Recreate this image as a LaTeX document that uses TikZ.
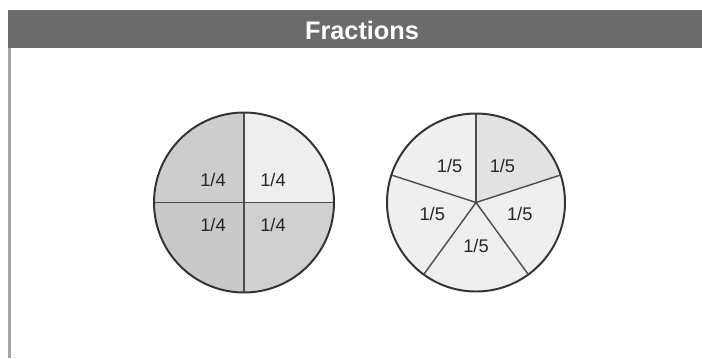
\documentclass[tikz,border=0pt]{standalone}
\usepackage{fontspec}
\setmainfont{Liberation Sans}
\usepackage{tikz}
\usetikzlibrary{positioning,calc}
\definecolor{barGray}{HTML}{6B6B6B}
\definecolor{quarterDark}{HTML}{CDCDCD}
\definecolor{quarterLight}{HTML}{EEEEEE}
\definecolor{fifthDark}{HTML}{E2E2E2}
\definecolor{fifthLight}{HTML}{EFEFEF}

\begin{document}
\begin{tikzpicture}[x=0.025cm, y=0.025cm,
  frac/.style={font=\fontsize{13}{15}\selectfont, text=black!85, inner sep=0pt},
  rim/.style={draw=black!80, line width=1.4pt},
  spoke/.style={draw=black!70, line width=1pt}]
\useasboundingbox (0,0) rectangle (702,358);
% header and frame
\fill[barGray] (8,310) rectangle (702,348);
\draw[gray!70, line width=1.5pt] (9.5,0) -- (9.5,310);
\node[font=\bfseries\fontsize{18}{20}\selectfont, text=white] (title) at (362,328) {Fractions};
% quarters
\coordinate (qc) at (244,155.5);
\fill[quarterDark] (qc) -- ++(90:90) arc[start angle=90, end angle=180, radius=90] -- cycle;
\fill[quarterLight] (qc) -- ++(0:90) arc[start angle=0, end angle=90, radius=90] -- cycle;
\fill[quarterDark!98!black] (qc) -- ++(180:90) arc[start angle=180, end angle=270, radius=90] -- cycle;
\fill[quarterDark!95!white] (qc) -- ++(270:90) arc[start angle=270, end angle=360, radius=90] -- cycle;
\draw[spoke] ($(qc)+(-90,0)$) -- ($(qc)+(90,0)$);
\draw[spoke] ($(qc)+(0,-90)$) -- ($(qc)+(0,90)$);
\draw[rim] (qc) circle[radius=90];
\node[frac] (q1) at (213,178) {1/4};
\node[frac] (q2) at (273,178) {1/4};
\node[frac] (q3) at (213,133) {1/4};
\node[frac] (q4) at (273,133) {1/4};
% fifths
\coordinate (fc) at (476,155.5);
\foreach \a in {90,162,234,306}
  \fill[fifthLight] (fc) -- ++(\a:89) arc[start angle=\a, end angle=\a+72, radius=89] -- cycle;
\fill[fifthDark] (fc) -- ++(18:89) arc[start angle=18, end angle=90, radius=89] -- cycle;
\foreach \a in {18,90,162,234,306}
  \draw[spoke] (fc) -- ++(\a:89);
\draw[rim] (fc) circle[radius=89];
\node[frac] (f1) at ($(fc)+(126:45)$) {1/5};
\node[frac] (f2) at ($(fc)+(54:45)$) {1/5};
\node[frac] (f3) at ($(fc)+(198:46)+(0,3)$) {1/5};
\node[frac] (f4) at ($(fc)+(342:46)+(0,3)$) {1/5};
\node[frac] (f5) at ($(fc)+(270:43)$) {1/5};
\end{tikzpicture}
\end{document}
